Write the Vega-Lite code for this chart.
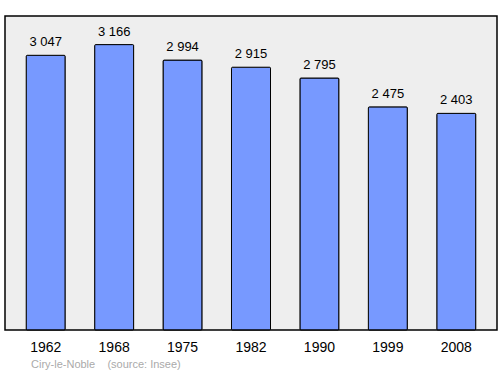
{
  "$schema": "https://vega.github.io/schema/vega-lite/v6.json",
  "autosize": "none",
  "width": 492,
  "height": 314,
  "padding": {"left": 5, "top": 16, "right": 3, "bottom": 44},
  "background": "white",
  "config": {
    "font": "Liberation Sans",
    "view": {"fill": "#eeeeee", "stroke": "black", "strokeWidth": 1.5},
    "locale": {"number": {"decimal": ",", "thousands": " ", "grouping": [3], "currency": ["", " €"]}}
  },
  "title": {
    "text": "Ciry-le-Noble\u00a0\u00a0\u00a0\u00a0(source: Insee)",
    "orient": "bottom",
    "anchor": "start",
    "frame": "bounds",
    "fontSize": 11,
    "fontWeight": "normal",
    "color": "#aaaaaa",
    "offset": 5,
    "dx": 26
  },
  "data": {"values": [
    {"year": "1962", "pop": 3047},
    {"year": "1968", "pop": 3166},
    {"year": "1975", "pop": 2994},
    {"year": "1982", "pop": 2915},
    {"year": "1990", "pop": 2795},
    {"year": "1999", "pop": 2475},
    {"year": "2008", "pop": 2403}
  ]},
  "encoding": {
    "x": {
      "field": "year", "type": "nominal", "sort": null,
      "scale": {"paddingInner": 0.43, "paddingOuter": 0.31},
      "axis": {"title": null, "labelAngle": 0, "ticks": false, "domain": false, "labelFontSize": 14, "labelColor": "black", "labelPadding": 10}
    },
    "y": {
      "field": "pop", "type": "quantitative",
      "scale": {"domain": [0, 3483], "nice": false},
      "axis": null
    }
  },
  "layer": [
    {"mark": {"type": "bar", "fill": "#7799ff", "stroke": "black", "strokeWidth": 1, "cornerRadius": 1}},
    {"mark": {"type": "text", "baseline": "bottom", "dy": -6, "fontSize": 13, "color": "black"},
     "encoding": {"text": {"field": "pop", "type": "quantitative", "format": ",d"}}}
  ]
}
